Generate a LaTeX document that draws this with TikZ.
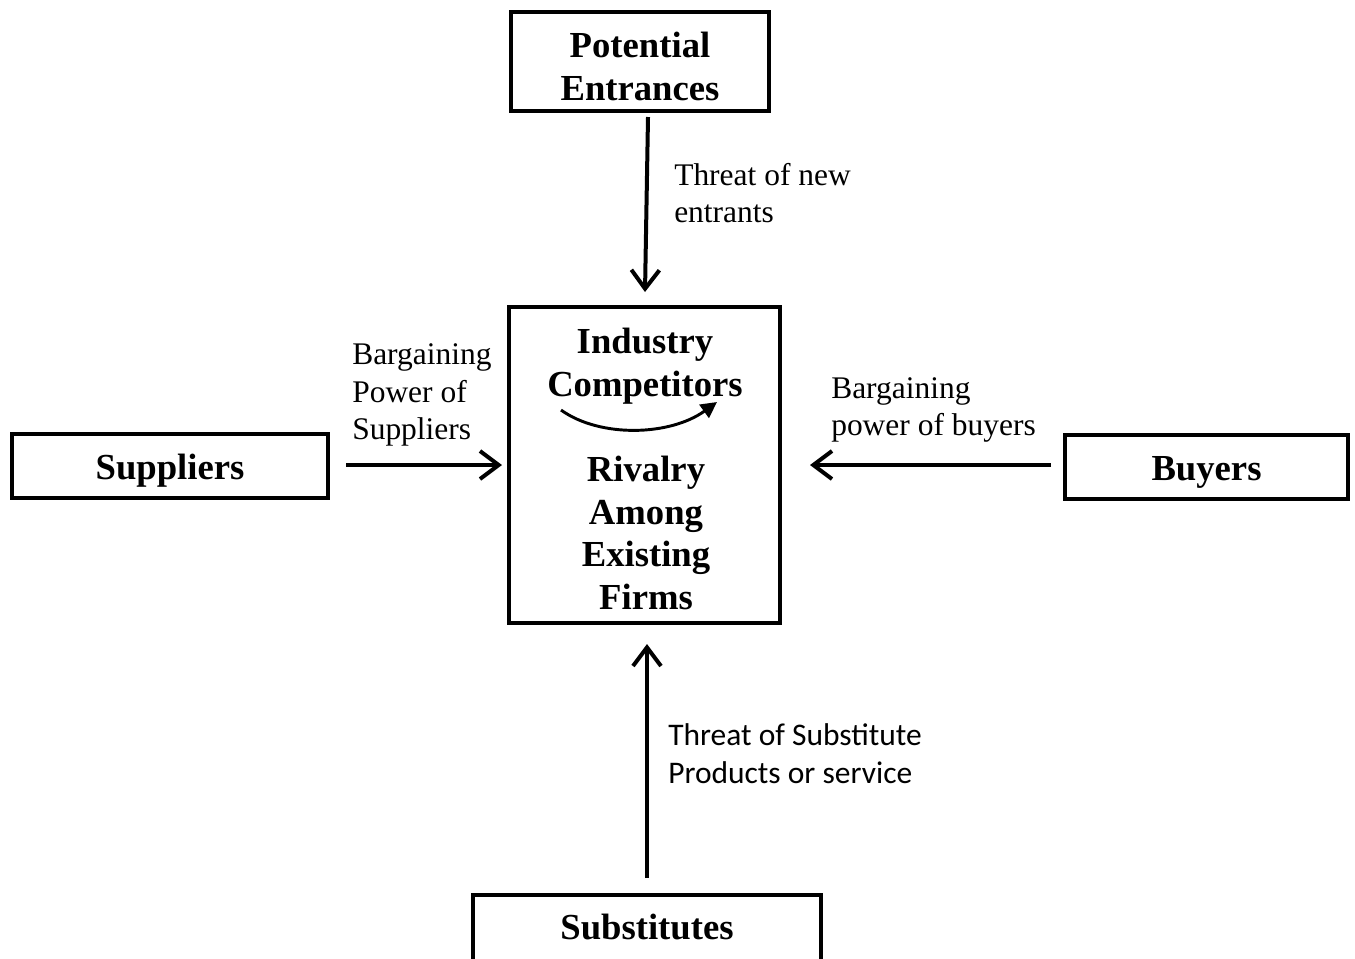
\documentclass[tikz,border=0pt]{standalone}
\usepackage{fontspec}
\setmainfont{Liberation Serif}
\newfontfamily\labelsans{Carlito}
\usetikzlibrary{arrows.meta,calc}

\tikzset{
  forcebox/.style={draw, line width=3pt, inner sep=0pt},
  boldtext/.style={inner sep=0pt, align=center,
    font=\bfseries\fontsize{27.5}{32}\selectfont},
  flowlabel/.style={inner sep=0pt, align=left, anchor=west,
    font=\fontsize{23.6}{28}\selectfont},
  sanslabel/.style={inner sep=0pt, align=left, anchor=west,
    font=\labelsans\fontsize{23.6}{28.5}\selectfont},
  force/.style={line width=3pt, -{Straight Barb[length=14pt,width=21pt,line width=3pt]}},
  rivalry/.style={line width=2.2pt, -{Triangle[length=12pt,width=12pt]}}
}

\begin{document}
\begin{tikzpicture}[x=0.75pt,y=-0.75pt]
  \useasboundingbox (0,0) rectangle (1355,958);
  \clip (0,0) rectangle (1355,958);

  % the five boxes
  \node[forcebox, minimum width=193.5pt, minimum height=74.25pt] (entrants) at (640,61.5) {};
  \node[forcebox, minimum width=203.25pt, minimum height=237pt] (core) at (644.5,465) {};
  \node[forcebox, minimum width=237pt, minimum height=48pt] (suppliers) at (170,466) {};
  \node[forcebox, minimum width=212.25pt, minimum height=48pt] (buyers) at (1206.5,467) {};
  \node[forcebox, minimum width=261pt, minimum height=49.5pt] (substitutes) at (647,928) {};

  % box titles
  \node[boldtext] (entrantsTxt) at (640,66.5) {Potential\\Entrances};
  \node[boldtext] (suppliersTxt) at (170,471) {Suppliers};
  \node[boldtext] (buyersTxt) at (1206.5,472) {Buyers};
  \node[boldtext] (substitutesTxt) at (647,927) {Substitutes};

  % text inside the central box
  \node[boldtext] (industry) at (645,366) {Industry\\Competitors};
  \node[boldtext] (rivalry) at (646,533) {Rivalry\\Among\\Existing\\Firms};
  \coordinate (rivA) at (561,410);
  \coordinate (rivB) at (717,402);
  \draw[rivalry] (rivA) .. controls (600,438) and (670,436) .. (rivB);

  % arrows towards the industry
  \draw[force] ($(entrants.south)+(8,4)$) -- ($(core.north)+(0.5,-13)$);
  \draw[force] ($(suppliers.east)+(16,-1)$) -- ($(core.west)+(-5,0)$);
  \draw[force] ($(buyers.west)+(-12,-2)$) -- ($(core.east)+(28,0)$);
  \draw[force] ($(substitutes.north)+(0,-15)$) -- ($(core.south)+(2.5,19)$);

  % arrow labels
  \node[flowlabel] (lblentr) at (674,193) {Threat of new\\entrants};
  \node[flowlabel] (lblsupp) at (352,395) {Bargaining\\Power of\\Suppliers};
  \node[flowlabel] (lblbuy) at (831,410) {Bargaining\\power of buyers};
  \node[sanslabel] (lblsubs) at (668,754) {Threat of Substitute\\Products or service};
\end{tikzpicture}
\end{document}
